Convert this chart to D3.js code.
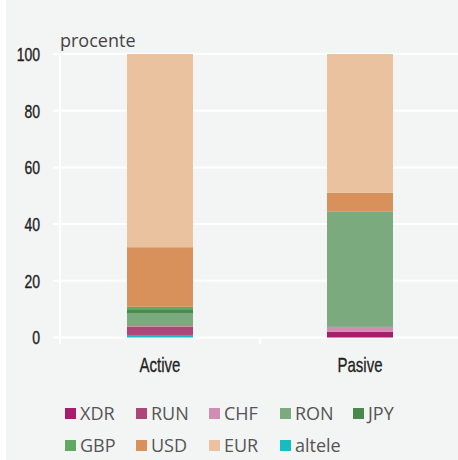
<!DOCTYPE html>
<html>
<head>
<meta charset="utf-8">
<script src="https://cdn.jsdelivr.net/npm/d3@7"></script>
<style>
  body { margin: 0; background: #ffffff; }
  svg { display: block; }
</style>
</head>
<body>
<svg id="mySVG" width="458" height="460"></svg>
<script>
// ---data---
var Categories = ["Active", "Pasive"]
var Keys = ["altele", "XDR", "RUN", "CHF", "RON", "JPY", "GBP", "USD", "EUR"]
var Altele = [0.9, 0]
var XDR = [0, 2.0]
var RUN = [2.8, 0]
var CHF = [0.35, 1.75]
var RON = [4.6, 40.75]
var JPY = [1.05, 0]
var GBP = [1.15, 0]
var USD = [21.0, 6.6]
var EUR = [68.15, 48.9]
var YTicks = [0, 20, 40, 60, 80, 100]
var LegendRows = [["XDR", "RUN", "CHF", "RON", "JPY"], ["GBP", "USD", "EUR", "altele"]]

var Colors = {
    XDR: "#a81d6b", RUN: "#ae4579", CHF: "#d08eb1", RON: "#7caa7f", JPY: "#4a884b",
    GBP: "#61a963", USD: "#d9915b", EUR: "#ebc29f", altele: "#18bcc0"
}

var Series = { altele: Altele, XDR: XDR, RUN: RUN, CHF: CHF, RON: RON, JPY: JPY, GBP: GBP, USD: USD, EUR: EUR }
var Rows = Categories.map(function(c, i) {
    var r = { cat: c }
    Keys.forEach(function(k) { r[k] = Series[k][i] })
    return r
})

var MySVG = d3.select("#mySVG")
var light = "'Open Sans', 'Noto Sans', sans-serif"
var narrow = "'Liberation Sans', Arial, sans-serif"

//---panel background---
MySVG.append("rect")
    .attr("x", 6).attr("y", 0)
    .attr("width", 452).attr("height", 460)
    .attr("fill", "#f3f4f4")

var x = d3.scaleBand().domain(Categories).range([60, 460]).paddingInner(0).paddingOuter(0)
var y = d3.scaleLinear().domain([0, 100]).range([337.5, 54])

//---grid---
var Grid = MySVG.append("g").attr("id", "gridLayer")
Grid.selectAll("line.h")
    .data(YTicks)
    .enter().append("line")
    .attr("class", "h")
    .attr("x1", 53).attr("x2", 458)
    .attr("y1", function(d) { return y(d) })
    .attr("y2", function(d) { return y(d) })
    .attr("stroke", "#ffffff")
    .attr("stroke-width", 2)
Grid.append("line")
    .attr("x1", 60).attr("x2", 60)
    .attr("y1", y(100)).attr("y2", 344)
    .attr("stroke", "#ffffff").attr("stroke-width", 2)
Grid.selectAll("line.v")
    .data(Categories.slice(1))
    .enter().append("line")
    .attr("class", "v")
    .attr("x1", function(d) { return x(d) })
    .attr("x2", function(d) { return x(d) })
    .attr("y1", y(0)).attr("y2", 344)
    .attr("stroke", "#ffffff").attr("stroke-width", 2)

//---y tick labels (condensed by scaling)---
var yAxis = MySVG.append("g")
    .attr("transform", "translate(40,0)")
    .call(d3.axisLeft(y).tickValues(YTicks).tickSize(0).tickPadding(0))
yAxis.select(".domain").remove()
yAxis.selectAll("text")
    .attr("font-family", narrow)
    .attr("font-size", 17.5)
    .attr("fill", "#222")
    .attr("stroke", "#222").attr("stroke-width", 0.35)
    .attr("dy", "0.36em")
    .attr("transform", "scale(0.8,1)")

MySVG.append("text")
    .attr("x", 60).attr("y", 47)
    .attr("font-family", light).attr("font-size", 18)
    .attr("fill", "#444")
    .text("procente")

//---bars---
var stack = d3.stack().keys(Keys)(Rows)
var barW = 66
var ElemG = MySVG.append("g").attr("id", "barsG")
ElemG.selectAll("g.layer")
    .data(stack)
    .enter().append("g")
    .attr("class", "layer")
    .attr("fill", function(d) { return Colors[d.key] })
    .selectAll("rect")
    .data(function(d) { return d })
    .enter().append("rect")
    .attr("x", function(d) { return x(d.data.cat) + x.bandwidth() / 2 - barW / 2 })
    .attr("width", barW)
    .attr("y", function(d) { return y(d[1]) })
    .attr("height", function(d) { return Math.max(0, y(d[0]) - y(d[1])) })

//---category labels---
var xAxis = MySVG.append("g")
    .attr("transform", "translate(0,372)")
    .call(d3.axisBottom(x).tickSize(0).tickPadding(0))
xAxis.select(".domain").remove()
xAxis.selectAll("text")
    .attr("font-family", narrow)
    .attr("font-size", 20)
    .attr("fill", "#222")
    .attr("stroke", "#222").attr("stroke-width", 0.3)
    .attr("dy", 0)
    .attr("transform", "scale(0.75,1)")

//---legend---
var legX = [65, 136, 209, 280, 353]
var legY = [408, 440]
var LegendG = MySVG.append("g").attr("id", "legendG")
LegendRows.forEach(function(row, ri) {
    var items = LegendG.selectAll("g.row" + ri)
        .data(row)
        .enter().append("g")
        .attr("transform", function(d, i) { return "translate(" + legX[i] + "," + legY[ri] + ")" })
    items.append("rect")
        .attr("width", 11).attr("height", 11)
        .attr("fill", function(d) { return Colors[d] })
    items.append("text")
        .attr("x", 15).attr("y", 11.5)
        .attr("font-family", light).attr("font-size", 18)
        .attr("fill", "#555")
        .text(function(d) { return d })
})
</script>
</body>
</html>
